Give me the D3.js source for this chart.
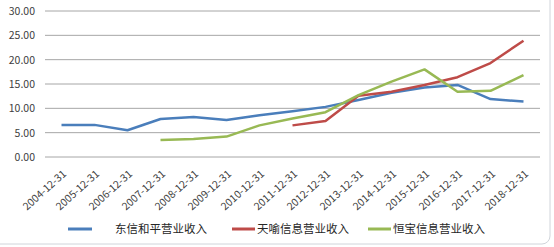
<!DOCTYPE html>
<html><head><meta charset="utf-8">
<script src="https://cdn.jsdelivr.net/npm/d3@7"></script>
<style>body{margin:0;background:#fff;}svg{display:block;}</style>
</head><body>
<svg id="c" width="554" height="247"></svg>
<script>
const categories = ["2004-12-31","2005-12-31","2006-12-31","2007-12-31","2008-12-31","2009-12-31","2010-12-31","2011-12-31","2012-12-31","2013-12-31","2014-12-31","2015-12-31","2016-12-31","2017-12-31","2018-12-31"];
const dongxin = [6.6,6.6,5.5,7.8,8.2,7.6,8.6,9.4,10.3,11.7,13.2,14.3,14.8,11.9,11.4];
const tianyu = [null,null,null,null,null,null,null,6.5,7.4,12.6,13.4,14.8,16.4,19.3,23.9];
const hengbao = [null,null,null,3.5,3.7,4.2,6.5,7.9,9.2,12.7,15.5,18.0,13.4,13.6,16.8];
const yTicks = [0,5,10,15,20,25,30];
const seriesNames = ["东信和平营业收入","天喻信息营业收入","恒宝信息营业收入"];
const colors = ["#4a7ebb","#be4b48","#98b954"];
const seriesData = [dongxin, tianyu, hengbao];

const svg = d3.select("#c");
const font = "'Microsoft YaHei','Noto Sans CJK SC','DejaVu Sans',sans-serif";
// frame
svg.append("rect").attr("x",-10).attr("y",-8).attr("width",560).attr("height",252)
  .attr("rx",8).attr("fill","none").attr("stroke","#d0d4da").attr("stroke-width",1);

const x = d3.scaleBand().domain(categories).range([45,540]);
const y = d3.scaleLinear().domain([0,30]).range([157,11]);

const g = svg.append("g");
g.selectAll("line.grid").data(yTicks).enter().append("line")
  .attr("x1",45).attr("x2",540).attr("y1",d=>y(d)).attr("y2",d=>y(d))
  .attr("stroke","#a6a6a6").attr("stroke-width",1);

const yAxis = d3.axisLeft(y).tickValues(yTicks).tickFormat(d3.format(".2f")).tickSize(0).tickPadding(0);
const ya = svg.append("g").attr("transform","translate(35,0)").call(yAxis);
ya.select(".domain").remove();
ya.selectAll("text").attr("font-family",font).attr("font-size",10.5).attr("fill","#404040");

const xAxis = d3.axisBottom(x).tickSize(0).tickPadding(0);
const xa = svg.append("g").attr("transform","translate(0,160)").call(xAxis);
xa.select(".domain").remove();
xa.selectAll("text").attr("font-family",font).attr("font-size",10.5).attr("fill","#404040")
  .attr("text-anchor","end").attr("dy","0.35em")
  .attr("transform",function(d){return `translate(${x.bandwidth()/2+3},12) rotate(-42)`;})
  .attr("x",0).attr("y",0);
xa.selectAll(".tick").attr("transform",d=>`translate(${x(d)},0)`);

const line = d3.line().defined(d=>d.v!=null).x(d=>x(d.c)+x.bandwidth()/2).y(d=>y(d.v));
seriesData.forEach((s,i)=>{
  svg.append("path").datum(categories.map((c,j)=>({c:c,v:s[j]})))
    .attr("d",line).attr("fill","none").attr("stroke",colors[i]).attr("stroke-width",2.5)
    .attr("stroke-linejoin","round");
});

// legend
const legX = [[68,92,115],[232,255,257],[368,391,393]];
seriesNames.forEach((n,i)=>{
  svg.append("line").attr("x1",legX[i][0]).attr("x2",legX[i][1]).attr("y1",229).attr("y2",229)
    .attr("stroke",colors[i]).attr("stroke-width",3);
  svg.append("text").attr("x",legX[i][2]).attr("y",229).attr("dy","0.35em")
    .attr("font-family",font).attr("font-size",11.5).attr("fill","#262626").text(n);
});
</script>
</body></html>
